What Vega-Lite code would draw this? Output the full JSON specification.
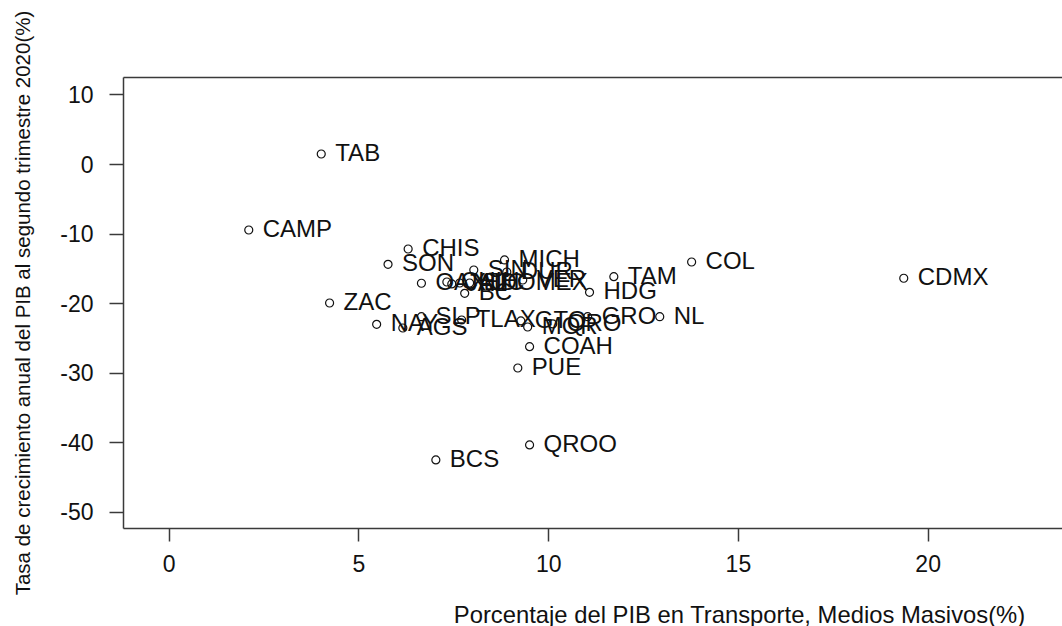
{
  "$schema": "https://vega.github.io/schema/vega-lite/v6.json",
  "width": 939,
  "height": 451,
  "autosize": "none",
  "padding": {"left": 123, "top": 77, "right": 0, "bottom": 98},
  "background": "white",
  "config": {
    "view": {"stroke": null},
    "font": "Liberation Sans",
    "axis": {
      "domainColor": "#3a3a3a",
      "domainWidth": 1.5,
      "tickColor": "#3a3a3a",
      "tickWidth": 1.5,
      "labelColor": "#111111",
      "titleColor": "#111111",
      "labelFont": "Liberation Sans",
      "titleFont": "Liberation Sans",
      "titleFontWeight": "normal",
      "grid": false
    }
  },
  "data": {
    "values": [
      {"estado": "TAB", "transporte": 4.02, "pib": 1.44},
      {"estado": "CAMP", "transporte": 2.11, "pib": -9.49},
      {"estado": "CHIS", "transporte": 6.31, "pib": -12.22},
      {"estado": "SON", "transporte": 5.78, "pib": -14.42},
      {"estado": "MICH", "transporte": 8.85, "pib": -13.80},
      {"estado": "SIN", "transporte": 8.04, "pib": -15.24},
      {"estado": "DUR", "transporte": 8.91, "pib": -15.53},
      {"estado": "VER", "transporte": 9.33, "pib": -16.68},
      {"estado": "COL", "transporte": 13.78, "pib": -14.09},
      {"estado": "TAM", "transporte": 11.73, "pib": -16.20},
      {"estado": "HDG", "transporte": 11.09, "pib": -18.45},
      {"estado": "CDMX", "transporte": 19.37, "pib": -16.43},
      {"estado": "OAX", "transporte": 6.66, "pib": -17.15},
      {"estado": "CHIH", "transporte": 7.33, "pib": -16.97},
      {"estado": "JAL", "transporte": 7.46, "pib": -17.25},
      {"estado": "YUC", "transporte": 7.67, "pib": -17.11},
      {"estado": "EDOMEX", "transporte": 7.93, "pib": -17.11},
      {"estado": "BC", "transporte": 7.80, "pib": -18.59},
      {"estado": "ZAC", "transporte": 4.24, "pib": -19.99},
      {"estado": "NAY", "transporte": 5.48, "pib": -23.05},
      {"estado": "AGS", "transporte": 6.17, "pib": -23.58},
      {"estado": "SLP", "transporte": 6.66, "pib": -21.96},
      {"estado": "TLAX", "transporte": 7.72, "pib": -22.43},
      {"estado": "GTO", "transporte": 9.28, "pib": -22.57},
      {"estado": "MOR", "transporte": 9.46, "pib": -23.44},
      {"estado": "QRO", "transporte": 10.12, "pib": -23.00},
      {"estado": "GRO", "transporte": 11.04, "pib": -21.96},
      {"estado": "NL", "transporte": 12.94, "pib": -21.96},
      {"estado": "COAH", "transporte": 9.51, "pib": -26.27},
      {"estado": "PUE", "transporte": 9.20, "pib": -29.33},
      {"estado": "QROO", "transporte": 9.51, "pib": -40.40},
      {"estado": "BCS", "transporte": 7.04, "pib": -42.55}
    ]
  },
  "layer": [
    {
      "mark": {"type": "point", "shape": "circle", "filled": false, "stroke": "#111111", "strokeWidth": 1.2, "size": 64, "opacity": 1},
      "encoding": {
        "x": {
          "field": "transporte", "type": "quantitative",
          "scale": {"domain": [-1.204, 23.54], "nice": false, "zero": false},
          "axis": {
            "orient": "bottom",
            "values": [0, 5, 10, 15, 20],
            "tickSize": 13,
            "labelPadding": 12,
            "labelFontSize": 23,
            "title": "Porcentaje del PIB en Transporte, Medios Masivos(%)",
            "titleFontSize": 23.8,
            "titleX": 616,
            "titleY": 87,
            "titleAlign": "center",
            "titleAnchor": null,
            "titleBaseline": "middle"
          }
        },
        "y": {
          "field": "pib", "type": "quantitative",
          "scale": {"domain": [-52.34, 12.51], "nice": false, "zero": false},
          "axis": {
            "orient": "left",
            "values": [-50, -40, -30, -20, -10, 0, 10],
            "labelExpr": "datum.value + ''",
            "tickSize": 14,
            "labelPadding": 16,
            "labelFontSize": 23,
            "labelOffset": 1,
            "title": "Tasa de crecimiento anual del PIB al segundo trimestre 2020(%)",
            "titleFontSize": 20.5,
            "titleX": -100,
            "titleY": 225.5,
            "titleAngle": -90,
            "titleAlign": "center",
            "titleAnchor": null,
            "titleBaseline": "middle"
          }
        }
      }
    },
    {
      "mark": {"type": "text", "align": "left", "baseline": "middle", "dx": 14, "fontSize": 24, "color": "#111111", "font": "Liberation Sans"},
      "encoding": {
        "x": {"field": "transporte", "type": "quantitative", "axis": null},
        "y": {"field": "pib", "type": "quantitative"},
        "text": {"field": "estado"}
      }
    },
    {
      "mark": {"type": "point", "opacity": 0},
      "encoding": {
        "x": {"field": "transporte", "type": "quantitative", "axis": {"orient": "top", "ticks": false, "labels": false, "title": null, "domain": true}},
        "y": {"field": "pib", "type": "quantitative"}
      }
    }
  ],
  "resolve": {"axis": {"x": "independent"}}
}
